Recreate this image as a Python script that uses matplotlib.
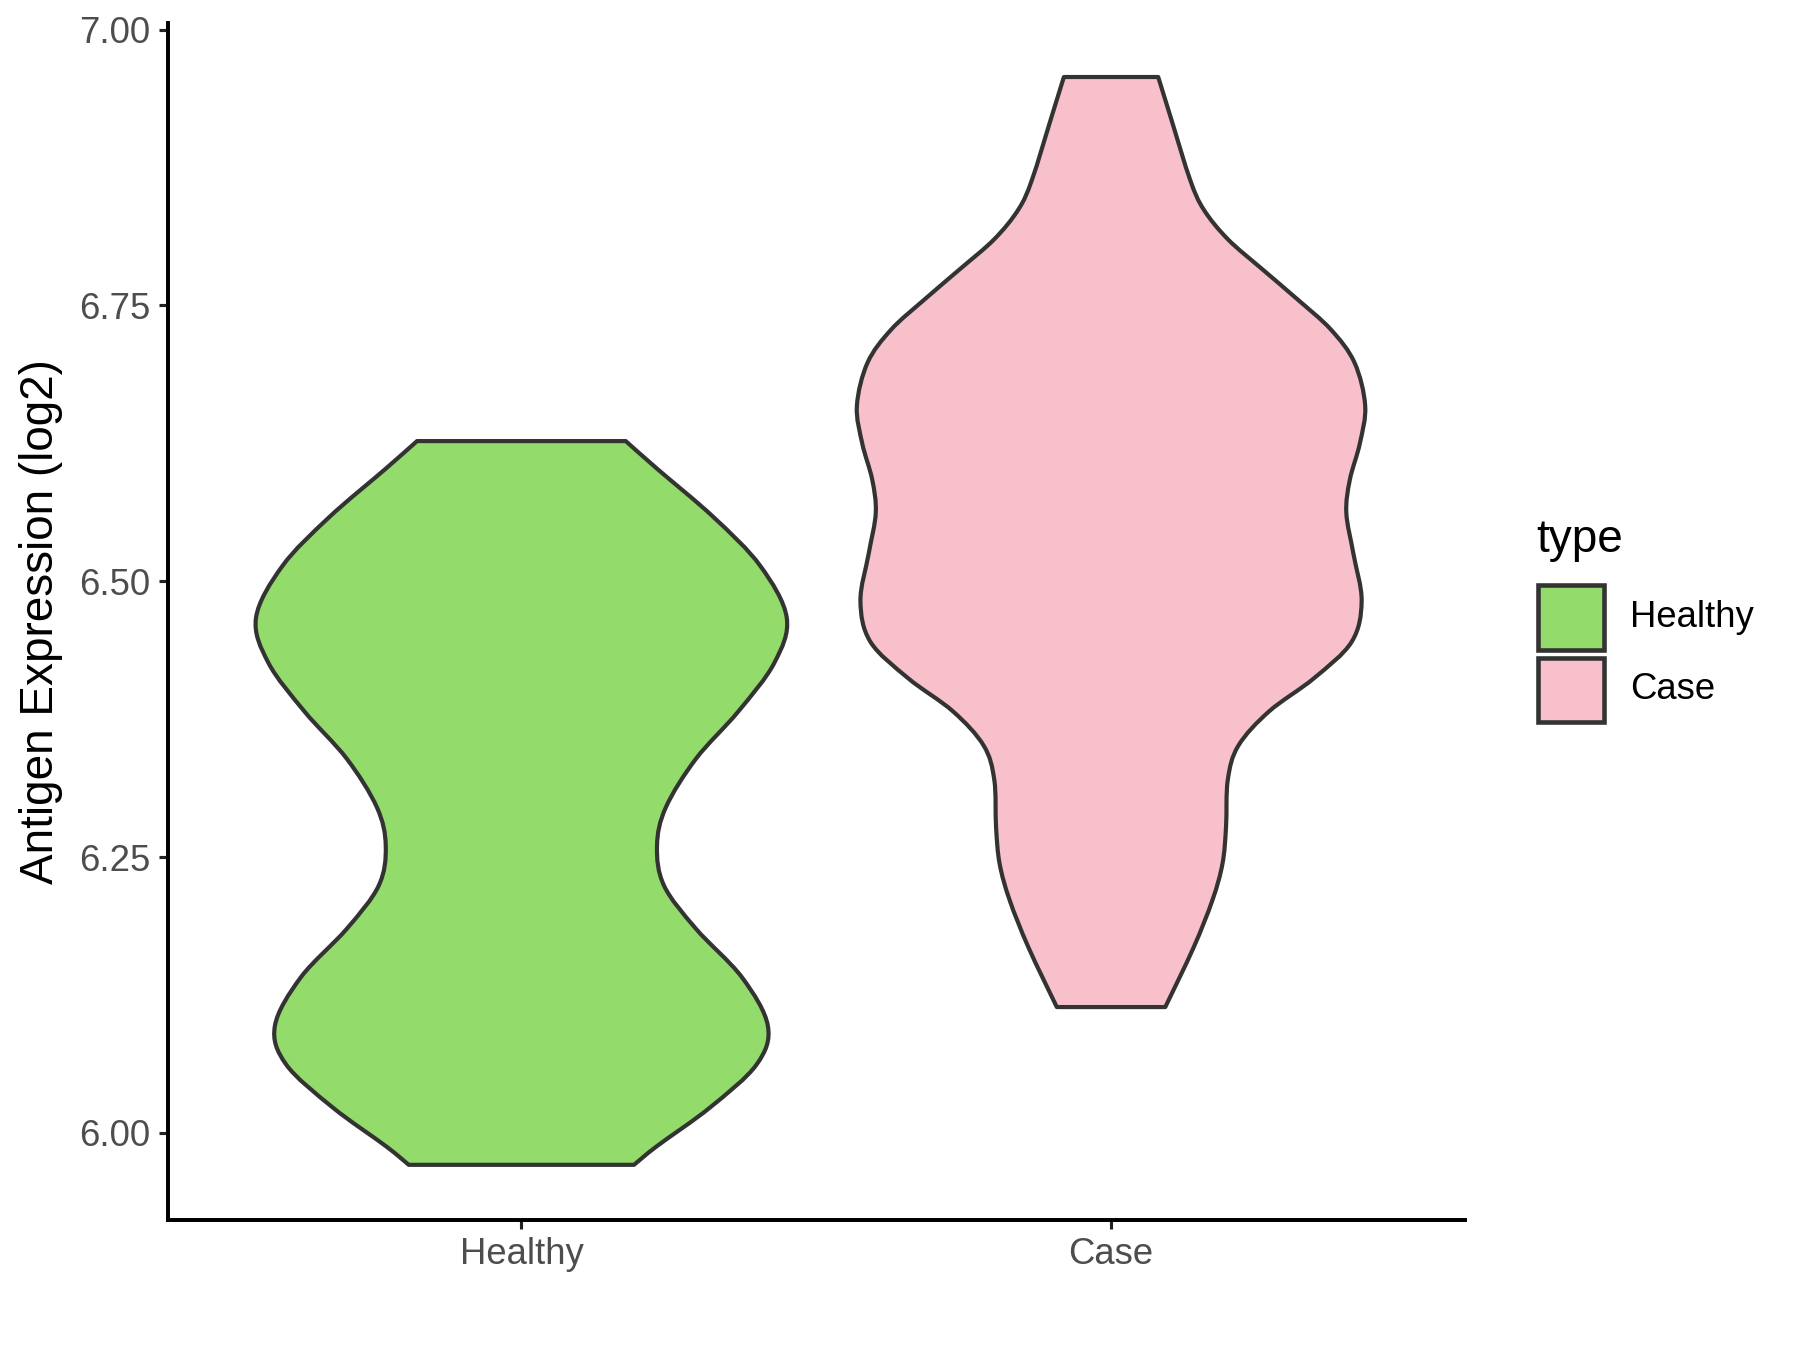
import numpy as np
import matplotlib.pyplot as plt
from matplotlib.path import Path
from matplotlib.patches import PathPatch, Rectangle

plt.rcParams['font.family'] = ['Liberation Sans', 'DejaVu Sans']

# groups and fill colours
groups = ['Healthy', 'Case']
fills = ['#93DB6A', '#F8C0CB']
edge = '#333333'

# violin outline: y value and half width (x units)
healthy_y = [6.627, 6.602, 6.558, 6.514, 6.467, 6.426, 6.382, 6.339, 6.295,
             6.260, 6.224, 6.185, 6.141, 6.097, 6.062, 6.023, 5.988, 5.971]
healthy_w = [0.177, 0.230, 0.326, 0.405, 0.450, 0.429, 0.368, 0.296, 0.245,
             0.230, 0.242, 0.296, 0.374, 0.418, 0.399, 0.320, 0.230, 0.191]

case_y = [6.957, 6.919, 6.864, 6.837, 6.810, 6.783, 6.756, 6.728, 6.698,
          6.659, 6.625, 6.592, 6.562, 6.525, 6.482, 6.445, 6.412, 6.382,
          6.351, 6.320, 6.277, 6.244, 6.211, 6.168, 6.114]
case_w = [0.080, 0.102, 0.134, 0.157, 0.198, 0.256, 0.315, 0.373, 0.413,
          0.431, 0.422, 0.405, 0.399, 0.411, 0.425, 0.408, 0.344, 0.268,
          0.216, 0.198, 0.195, 0.189, 0.172, 0.140, 0.092]

yticks = [6.00, 6.25, 6.50, 6.75, 7.00]


def smooth_side(pts):
    # catmull-rom through the points, as bezier segments
    verts, codes = [], []
    n = len(pts)
    for i in range(n - 1):
        p0 = pts[max(i - 1, 0)]
        p1 = pts[i]
        p2 = pts[i + 1]
        p3 = pts[min(i + 2, n - 1)]
        c1 = p1 + (p2 - p0) / 6.0
        c2 = p2 - (p3 - p1) / 6.0
        verts += [c1, c2, p2]
        codes += [Path.CURVE4] * 3
    return verts, codes


def violin(ax, pos, ys, ws, color):
    ys = np.asarray(ys, float)
    ws = np.asarray(ws, float)
    right = np.column_stack([pos + ws, ys])
    left = np.column_stack([pos - ws, ys])[::-1]
    verts = [left[-1], right[0]]
    codes = [Path.MOVETO, Path.LINETO]
    v, c = smooth_side(right)
    verts += v
    codes += c
    verts.append(left[0])
    codes.append(Path.LINETO)
    v, c = smooth_side(left)
    verts += v
    codes += c
    verts.append(left[-1])
    codes.append(Path.CLOSEPOLY)
    ax.add_patch(PathPatch(Path(verts, codes), facecolor=color,
                           edgecolor=edge, lw=2.0, joinstyle='round'))


fig = plt.figure(figsize=(12, 9), dpi=150)
ax = fig.add_axes([0.0931, 0.0963, 0.7207, 0.8867])

violin(ax, 1, healthy_y, healthy_w, fills[0])
violin(ax, 2, case_y, case_w, fills[1])

ax.set_xlim(0.4, 2.6)
ax.set_ylim(5.921, 7.006)
ax.set_xticks([1, 2])
ax.set_xticklabels(groups)
ax.set_yticks(yticks)
ax.set_yticklabels(['%.2f' % t for t in yticks])
ax.tick_params(axis='both', length=4.2, width=1.5, color='#222222',
               labelsize=17.5, labelcolor='#4D4D4D', pad=4)
for s in ['top', 'right']:
    ax.spines[s].set_visible(False)
for s in ['left', 'bottom']:
    ax.spines[s].set_linewidth(1.9)
    ax.spines[s].set_color('black')
ax.set_ylabel('Antigen Expression (log2)', fontsize=22, labelpad=8)

# legend, laid out by hand in figure coordinates like ggplot's
fig.text(0.8533, 0.6003, 'type', fontsize=22, va='center', ha='left')
key_w, key_h, key_step = 0.0363, 0.0476, 0.0536
for i, (g, f) in enumerate(zip(groups, fills)):
    y0 = 0.5187 - i * key_step
    fig.add_artist(Rectangle((0.8546, y0), key_w, key_h, transform=fig.transFigure,
                             facecolor=f, edgecolor=edge, lw=2.2))
    fig.text(0.9056, y0 + key_h / 2, g, fontsize=17.5, va='center', ha='left')

fig.savefig('out.png', dpi=150)
